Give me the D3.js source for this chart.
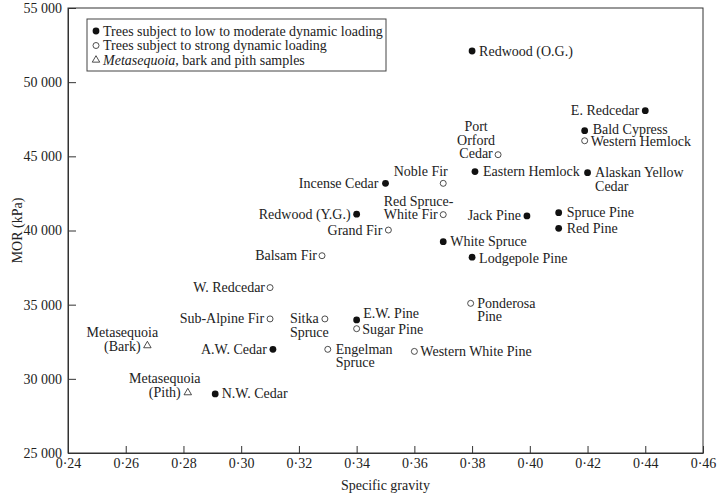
<!DOCTYPE html>
<html>
<head>
<meta charset="utf-8">
<script src="https://cdn.jsdelivr.net/npm/d3@7"></script>
<style>
  body { margin: 0; background: #fff; }
  text { font-family: "Liberation Serif", "DejaVu Serif", serif; fill: #222; }
</style>
</head>
<body>
<div id="grafiekContainer"></div>
<script>

// soortnamen (een \n geeft een nieuwe regel in het label)
var soorten = ["Redwood (O.G.)", "E. Redcedar", "Bald Cypress", "Western Hemlock",
  "Port\nOrford\nCedar", "Eastern Hemlock", "Alaskan Yellow\nCedar", "Incense Cedar",
  "Noble Fir", "Redwood (Y.G.)", "Red Spruce-\nWhite Fir", "Jack Pine", "Spruce Pine",
  "Red Pine", "Grand Fir", "White Spruce", "Lodgepole Pine", "Balsam Fir", "W. Redcedar",
  "Sub-Alpine Fir", "Sitka\nSpruce", "E.W. Pine", "Sugar Pine", "Metasequoia\n(Bark)",
  "A.W. Cedar", "Engelman\nSpruce", "Western White Pine", "Metasequoia\n(Pith)",
  "N.W. Cedar", "Ponderosa\nPine"];

// soortelijk gewicht
var dichtheid = [0.380, 0.440, 0.419, 0.419, 0.389, 0.381, 0.420, 0.350, 0.370, 0.340,
  0.370, 0.399, 0.410, 0.410, 0.351, 0.370, 0.380, 0.328, 0.310, 0.310, 0.329, 0.340,
  0.340, 0.2675, 0.311, 0.330, 0.360, 0.2815, 0.291, 0.3795];

// MOR in kPa
var breuksterkte = [52100, 48080, 46730, 46050, 45110, 43970, 43900, 43180, 43180, 41100,
  41070, 40980, 41200, 40150, 40030, 39250, 38200, 38300, 36150, 34040, 34040, 33970,
  33380, 32240, 31990, 31990, 31850, 29070, 28980, 35090];

// groep: laag = lage/matige belasting, sterk = sterke belasting, meta = Metasequoia
var groep = ["laag", "laag", "laag", "sterk", "sterk", "laag", "laag", "laag", "sterk", "laag",
  "sterk", "laag", "laag", "laag", "sterk", "laag", "laag", "sterk", "sterk", "sterk",
  "sterk", "laag", "sterk", "meta", "laag", "sterk", "sterk", "meta", "laag", "sterk"];

var xTicks = [0.24, 0.26, 0.28, 0.30, 0.32, 0.34, 0.36, 0.38, 0.40, 0.42, 0.44, 0.46];
var yTicks = [25000, 30000, 35000, 40000, 45000, 50000, 55000];

var legendaTeksten = ["Trees subject to low to moderate dynamic loading",
  "Trees subject to strong dynamic loading", "bark and pith samples"];

// plaats van ieder label t.o.v. het punt: [anker, dx, dy, regelafstand]
var labelPlek = [["start", 7, 4.5, 0], ["end", -6, 4.5, 0], ["start", 8, 3.5, 0],
  ["start", 6, 5.5, 0], ["middle", -22, -23.5, 13.5], ["start", 8, 4.5, 0],
  ["start", 7.5, 4.5, 14], ["end", -7, 4.5, 0], ["end", 4.5, -7.5, 0], ["end", -6, 4.5, 0],
  ["start", -59.5, -8.7, 13.2], ["end", -6, 4.5, 0], ["start", 8, 4.5, 0],
  ["start", 8, 4.5, 0], ["end", -6, 4.5, 0], ["start", 7, 4.5, 0], ["start", 7, 5.5, 0],
  ["end", -5, 4.5, 0], ["end", -5, 4.5, 0], ["end", -6, 4.5, 0], ["start", -35, 4.5, 13.5],
  ["start", 6.5, -1.5, 0], ["start", 5.5, 5, 0], ["middle", -25, -9, 14],
  ["end", -6, 4.5, 0], ["start", 8, 4.5, 13.5], ["start", 6, 4.5, 0],
  ["middle", -23, -10, 14.5], ["start", 6.5, 4.5, 0], ["start", 6.5, 4.5, 13.4]];

var breedte = 720;
var hoogte = 496;
var letter = 14;

// marges vast leggen
var marge = {boven: 8, beneden: 43, rechts: 17, links: 68};

// data samenvoegen
var data = soorten.map(function(d, i) {
  return {naam: d, sg: dichtheid[i], mor: breuksterkte[i], groep: groep[i], plek: labelPlek[i]};
});

// maak een SVG element
var svg = d3.select("#grafiekContainer")
            .append("svg")
            .attr("width", breedte)
            .attr("height", hoogte);

var x = d3.scaleLinear()
          .domain([0.24, 0.46])
          .range([marge.links, breedte - marge.rechts]);

var y = d3.scaleLinear()
          .domain([25000, 55000])
          .range([hoogte - marge.beneden, marge.boven]);

// x-as met streepjes naar binnen
var asX = d3.axisBottom(x)
            .tickValues(xTicks)
            .tickSizeInner(-7)
            .tickSizeOuter(0)
            .tickPadding(5)
            .tickFormat(function(d) { return d3.format(".2f")(d).replace(".", "\u00b7"); });

svg.append("g")
   .attr("class", "xAs")
   .attr("transform", "translate(0," + (hoogte - marge.beneden) + ")")
   .call(asX);

// y-as met streepjes naar binnen
var asY = d3.axisLeft(y)
            .tickValues(yTicks)
            .tickSizeInner(-8)
            .tickSizeOuter(0)
            .tickPadding(6)
            .tickFormat(function(d) { return d3.format(",")(d).replace(",", " "); });

svg.append("g")
   .attr("class", "yAs")
   .attr("transform", "translate(" + marge.links + ",0)")
   .call(asY);

svg.selectAll(".xAs text, .yAs text")
   .attr("font-size", letter)
   .attr("fill", "#222")
   .style("font-family", "'Liberation Serif', serif");
svg.selectAll(".xAs line, .yAs line, .xAs path, .yAs path").attr("stroke", "#333");

// kader rondom
svg.append("rect")
   .attr("x", x(0.24))
   .attr("y", y(55000))
   .attr("width", x(0.46) - x(0.24))
   .attr("height", y(25000) - y(55000))
   .attr("fill", "none")
   .attr("stroke", "#333");

// astitels
svg.append("text")
   .attr("x", (x(0.24) + x(0.46)) / 2)
   .attr("y", 490)
   .attr("text-anchor", "middle")
   .attr("font-size", letter)
   .text("Specific gravity");

svg.append("text")
   .attr("transform", "translate(22," + y(40000) + ") rotate(-90)")
   .attr("text-anchor", "middle")
   .attr("font-size", letter)
   .text("MOR (kPa)");

// symbool tekenen per groep
function tekenSymbool(sel, g) {
  if (g == "meta") {
    sel.append("path")
       .attr("d", d3.symbol(d3.symbolTriangle).size(24))
       .attr("fill", "none")
       .attr("stroke", "#222")
       .attr("stroke-width", 0.8);
  } else {
    sel.append("circle")
       .attr("r", g == "laag" ? 3.4 : 3)
       .attr("fill", g == "laag" ? "#111" : "none")
       .attr("stroke", "#222")
       .attr("stroke-width", g == "laag" ? 0 : 0.8);
  }
}

// de punten
var punten = svg.selectAll(".punt")
                .data(data)
                .enter()
                .append("g")
                .attr("class", "punt")
                .attr("transform", function(d) {
                  return "translate(" + x(d.sg) + "," + y(d.mor) + ")"; });

punten.each(function(d) {
  tekenSymbool(d3.select(this), d.groep);
});

// de labels
punten.append("text")
      .attr("font-size", letter)
      .attr("text-anchor", function(d) { return d.plek[0]; })
      .each(function(d) {
        var regels = d.naam.split("\n");
        var t = d3.select(this);
        regels.forEach(function(r, i) {
          t.append("tspan")
           .attr("x", d.plek[1])
           .attr("y", d.plek[2] + i * d.plek[3])
           .text(r);
        });
      });

// legenda
var legenda = svg.append("g")
                 .attr("transform", "translate(87,19)");

legenda.append("rect")
       .attr("width", 299)
       .attr("height", 52)
       .attr("fill", "#fff")
       .attr("stroke", "#444");

var legendaGroepen = ["laag", "sterk", "meta"];
legendaGroepen.forEach(function(g, i) {
  var rij = legenda.append("g")
                   .attr("transform", "translate(9," + (12 + i * 14.5) + ")");
  tekenSymbool(rij, g);
  var t = rij.append("text")
             .attr("x", 7)
             .attr("y", 4.5)
             .attr("font-size", letter);
  if (g == "meta") {
    t.append("tspan").attr("font-style", "italic").text("Metasequoia");
    t.append("tspan").text(", " + legendaTeksten[i]);
  } else {
    t.text(legendaTeksten[i]);
  }
});

</script>
</body>
</html>
